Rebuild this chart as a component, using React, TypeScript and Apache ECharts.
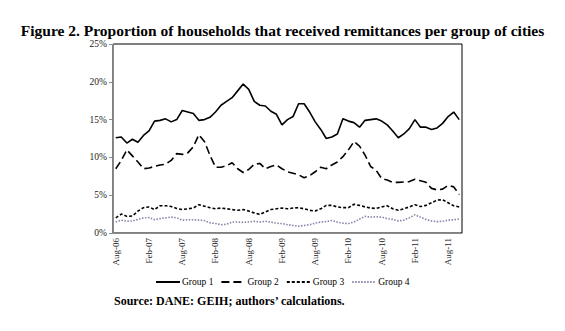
import React, { useEffect, useRef } from "react";
import * as echarts from "echarts";

const MONTH_NAMES = ["Jan", "Feb", "Mar", "Apr", "May", "Jun", "Jul", "Aug", "Sep", "Oct", "Nov", "Dec"];
const START_YEAR = 2006;
const START_MONTH = 7; // Aug
const N_MONTHS = 63; // Aug-06 .. Oct-11

const categories: string[] = Array.from({ length: N_MONTHS }, (_, i) => {
  const mi = (START_MONTH + i) % 12;
  const yr = START_YEAR + Math.floor((START_MONTH + i) / 12);
  return `${MONTH_NAMES[mi]}-${String(yr % 100).padStart(2, "0")}`;
});

const yTicks = [0, 5, 10, 15, 20, 25];

const group1 = [
  12.6, 12.7, 11.9, 12.4, 12.0, 12.9, 13.5, 14.8, 14.9, 15.1, 14.7, 15.0, 16.2, 16.0, 15.8, 14.9,
  15.0, 15.3, 16.0, 16.9, 17.4, 17.9, 18.8, 19.7, 19.0, 17.4, 16.9, 16.8, 16.1, 15.7, 14.3, 15.0,
  15.4, 17.1, 17.1, 16.0, 14.7, 13.7, 12.5, 12.7, 13.1, 15.1, 14.8, 14.6, 14.0, 14.9, 15.0, 15.1,
  14.8, 14.3, 13.5, 12.6, 13.1, 13.8, 15.0, 14.0, 14.0, 13.7, 13.9, 14.5, 15.4, 16.0, 15.0,
];
const group2 = [
  8.5, 9.6, 11.0, 10.2, 9.4, 8.5, 8.6, 8.8, 9.0, 9.1, 9.6, 10.5, 10.4, 10.6, 11.4, 13.0,
  12.1, 10.3, 8.7, 8.7, 8.9, 9.3, 8.5, 8.0, 8.4, 9.1, 9.2, 8.5, 8.8, 9.0, 8.5, 8.1,
  7.9, 7.7, 7.3, 7.6, 8.1, 8.7, 8.5, 9.0, 9.4, 10.1, 11.0, 12.1, 11.5, 10.3, 8.8, 8.3,
  7.2, 7.0, 6.7, 6.7, 6.75, 6.8, 7.1, 6.9, 6.7, 5.9, 5.7, 5.8, 6.3, 6.1, 5.1,
];
const group3 = [
  2.0, 2.5, 2.2, 2.25, 2.9, 3.35, 3.45, 3.1, 3.6, 3.6, 3.5, 3.25, 3.1, 3.2, 3.3, 3.75,
  3.55, 3.35, 3.2, 3.3, 3.2, 3.1, 3.0, 3.1, 2.9, 2.65, 2.45, 2.8, 3.1, 3.2, 3.3, 3.2,
  3.3, 3.35, 3.2, 3.0, 2.9, 3.2, 3.65, 3.65, 3.45, 3.35, 3.35, 3.8, 3.65, 3.45, 3.3, 3.25,
  3.45, 3.6, 3.2, 3.0, 3.2, 3.45, 3.75, 3.5, 3.65, 4.0, 4.35, 4.4, 4.0, 3.6, 3.45,
];
const group4 = [
  1.45, 1.7, 1.55, 1.6, 1.8, 2.0, 2.05, 1.75, 1.9, 2.0, 2.1, 2.0, 1.7, 1.75, 1.75, 1.7,
  1.65, 1.35, 1.25, 1.1, 1.15, 1.45, 1.45, 1.4, 1.45, 1.55, 1.45, 1.55, 1.45, 1.3, 1.25, 1.1,
  1.0, 0.9, 1.0, 1.1, 1.3, 1.45, 1.5, 1.65, 1.45, 1.3, 1.25, 1.45, 1.85, 2.2, 2.1, 2.15,
  2.1, 1.9, 1.8, 1.6, 1.7, 2.0, 2.4, 2.1, 1.8, 1.6, 1.5, 1.55, 1.7, 1.75, 1.85,
];

const seriesNames = ["Group 1", "Group 2", "Group 3", "Group 4"];
const TITLE = "Figure 2. Proportion of households that received remittances per group of cities";
const SOURCE = "Source: DANE: GEIH; authors\u2019 calculations.";

const SERIF = "'Liberation Serif', 'Times New Roman', serif";

export default function App() {
  const ref = useRef<HTMLDivElement>(null);
  useEffect(() => {
    if (!ref.current) return;
    const chart = echarts.init(ref.current, null, { renderer: "svg" });
    const styles = [
      { color: "#000", type: "solid" as any, width: 1.6 },
      { color: "#000", type: [8, 4] as any, width: 1.6 },
      { color: "#000", type: [3, 2] as any, width: 1.6 },
      { color: "#8a80a8", type: [1.5, 1.5] as any, width: 1.6 },
    ];
    const datas = [group1, group2, group3, group4];
    chart.setOption({
      animation: false,
      backgroundColor: "#fff",
      title: {
        text: TITLE,
        left: "center",
        top: 17,
        textStyle: { fontFamily: SERIF, fontWeight: "bold", fontSize: 15.5, color: "#000" },
      },
      legend: {
        left: 150,
        top: 272,
        itemWidth: 24,
        itemHeight: 10,
        itemGap: 7,
        data: seriesNames,
        itemStyle: { color: "transparent", borderColor: "transparent", borderWidth: 0, opacity: 0 },
        textStyle: { fontFamily: SERIF, fontSize: 9.5, color: "#000", padding: [0, 0, 0, -3] },
      },
      grid: {
        left: 113,
        top: 44,
        width: 349,
        height: 189,
        show: true,
        borderColor: "#000",
        borderWidth: 1,
        backgroundColor: "#fff",
      },
      xAxis: {
        type: "category",
        data: categories,
        boundaryGap: true,
        axisLine: { lineStyle: { color: "#8c8c8c", width: 1 } },
        axisTick: { interval: 5, length: 4, lineStyle: { color: "#8c8c8c" } },
        axisLabel: {
          interval: 5,
          rotate: 90,
          fontFamily: SERIF,
          fontSize: 9,
          color: "#222",
          margin: 5,
        },
        splitLine: { show: false },
      },
      yAxis: {
        type: "value",
        min: yTicks[0],
        max: yTicks[yTicks.length - 1],
        interval: 5,
        axisLine: { show: true, lineStyle: { color: "#8c8c8c", width: 1 } },
        axisTick: { show: true, length: 4, lineStyle: { color: "#8c8c8c" } },
        axisLabel: { formatter: "{value}%", fontFamily: SERIF, fontSize: 9.5, color: "#222", margin: 6 },
        splitLine: { show: false },
      },
      graphic: [
        {
          type: "text",
          left: 114,
          top: 295,
          style: { text: SOURCE, font: `bold 12px ${SERIF}`, fill: "#000" },
        },
      ],
      series: seriesNames.map((name, i) => ({
        name,
        type: "line",
        data: datas[i],
        symbol: "none",
        smooth: false,
        lineStyle: styles[i],
        itemStyle: { color: styles[i].color },
      })),
    });
    return () => chart.dispose();
  }, []);
  return (
    <div
      ref={ref}
      style={{ position: "fixed", left: 0, top: 0, width: 565, height: 331, background: "#fff" }}
    />
  );
}
